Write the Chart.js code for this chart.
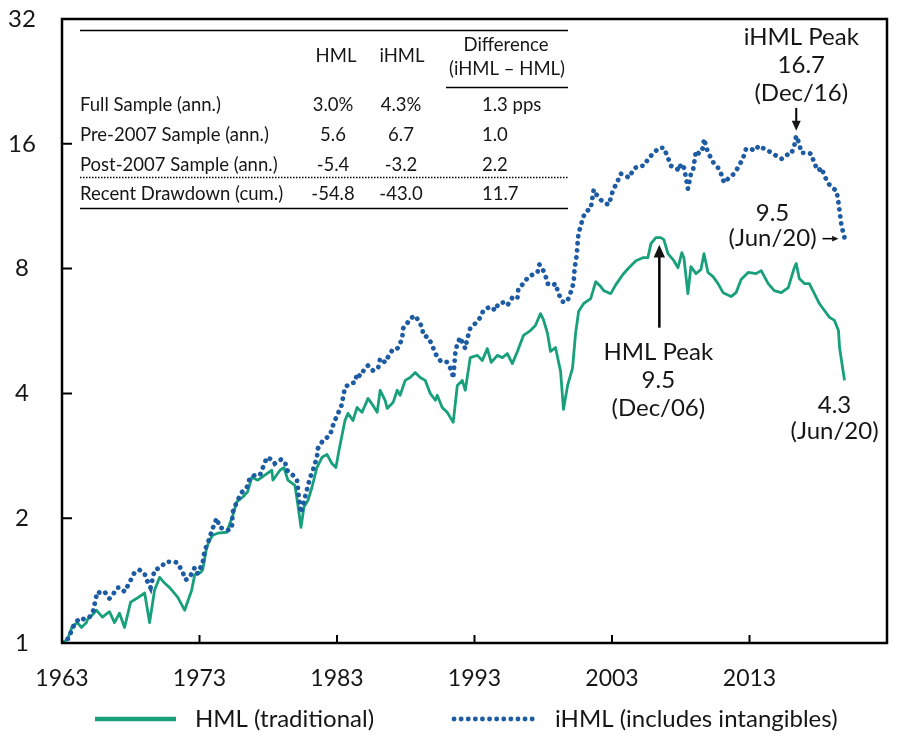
<!DOCTYPE html>
<html>
<head>
<meta charset="utf-8">
<script src="https://cdn.jsdelivr.net/npm/chart.js@4.4.1/dist/chart.umd.min.js"></script>
<style>
    html, body { margin: 0; padding: 0; background: #fff; }
    #wrap { width: 898px; height: 747px; }
</style>
</head>
<body>
<div id="wrap"><canvas id="chart" width="898" height="747"></canvas></div>
<script>
// growth of $1, monthly series starting Jul/1963
const hmlYears = [
    1963.5, 1963.9, 1964.26, 1964.62, 1964.91, 1965.28, 1965.35, 1965.72, 1966.0, 1966.44,
    1966.95, 1967.32, 1967.68, 1968.05, 1968.27, 1968.49, 1968.92, 1969.51, 1969.87, 1970.23,
    1970.6, 1970.96, 1971.33, 1971.91, 1972.42, 1972.93, 1973.15, 1973.59, 1973.73, 1974.02,
    1974.24, 1974.46, 1974.82, 1975.48, 1975.92, 1976.21, 1976.65, 1977.01, 1977.3, 1977.74,
    1978.25, 1978.76, 1978.84, 1979.35, 1979.64, 1979.93, 1980.44, 1980.66, 1980.88, 1981.1,
    1981.39, 1981.68, 1982.04, 1982.41, 1982.77, 1983.13, 1983.42, 1983.65, 1984.08, 1984.3,
    1984.66, 1984.96, 1985.32, 1985.76, 1986.12, 1986.42, 1986.64, 1987.0, 1987.15, 1987.59,
    1987.88, 1988.09, 1988.46, 1988.82, 1989.19, 1989.55, 1989.92, 1990.28, 1990.65, 1990.79,
    1991.15, 1991.52, 1991.95, 1992.25, 1992.61, 1992.83, 1993.19, 1993.71, 1994.07, 1994.43,
    1994.72, 1995.16, 1995.53, 1995.89, 1996.25, 1996.62, 1997.06, 1997.57, 1997.93, 1998.3,
    1998.51, 1998.81, 1999.03, 1999.39, 1999.76, 1999.97, 2000.27, 2000.63, 2000.85, 2001.07,
    2001.44, 2001.95, 2002.32, 2002.68, 2002.9, 2003.41, 2003.78, 2004.29, 2004.73, 2005.24,
    2005.75, 2006.11, 2006.33, 2006.69, 2007.05, 2007.27, 2007.57, 2008.0, 2008.3, 2008.58,
    2008.73, 2009.02, 2009.24, 2009.61, 2009.97, 2010.19, 2010.48, 2010.85, 2011.21, 2011.58,
    2012.16, 2012.52, 2012.89, 2013.4, 2013.98, 2014.35, 2014.86, 2015.3, 2015.81, 2016.32,
    2016.76, 2016.9, 2017.12, 2017.49, 2017.85, 2018.22, 2018.58, 2018.95, 2019.32, 2019.68,
    2019.97, 2020.05, 2020.19, 2020.41
];
const hmlValues = [
    1.00, 1.02, 1.10, 1.12, 1.09, 1.12, 1.14, 1.17, 1.20, 1.155,
    1.19, 1.12, 1.18, 1.09, 1.17, 1.255, 1.28, 1.32, 1.12, 1.34,
    1.44, 1.395, 1.36, 1.29, 1.20, 1.34, 1.46, 1.48, 1.50, 1.70,
    1.77, 1.82, 1.84, 1.85, 2.03, 2.19, 2.25, 2.32, 2.51, 2.47,
    2.54, 2.61, 2.47, 2.61, 2.65, 2.47, 2.40, 2.15, 1.90, 2.13,
    2.21, 2.375, 2.65, 2.805, 2.85, 2.71, 2.65, 2.92, 3.44, 3.58,
    3.44, 3.70, 3.60, 3.89, 3.74, 3.60, 4.07, 3.85, 3.68, 3.81,
    4.07, 3.96, 4.30, 4.37, 4.49, 4.37, 4.30, 4.00, 3.85, 3.96,
    3.70, 3.60, 3.405, 4.18, 4.30, 4.07, 4.88, 4.94, 4.80, 5.13,
    4.75, 4.94, 4.88, 4.99, 4.72, 5.05, 5.52, 5.67, 5.83, 6.23,
    6.03, 5.58, 5.05, 5.16, 4.52, 3.66, 4.18, 4.60, 5.58, 6.30,
    6.59, 6.77, 7.44, 7.24, 7.08, 6.96, 7.32, 7.74, 8.04, 8.36,
    8.50, 8.50, 9.19, 9.50, 9.50, 9.40, 8.69, 8.36, 8.04, 8.74,
    8.50, 6.96, 8.09, 7.78, 7.96, 8.69, 7.83, 7.65, 7.36, 7.00,
    6.85, 7.00, 7.53, 7.83, 7.78, 7.91, 7.36, 7.08, 7.00, 7.20,
    8.04, 8.23, 7.57, 7.36, 7.36, 6.96, 6.59, 6.34, 6.10, 6.00,
    5.67, 5.16, 4.80, 4.30
];

const ihmlYears = [
    1963.5, 1963.67, 1964.04, 1964.19, 1964.48, 1964.84, 1965.13, 1965.5, 1965.79, 1965.93,
    1966.08, 1966.3, 1966.59, 1966.95, 1967.17, 1967.54, 1967.76, 1968.05, 1968.41, 1968.78,
    1969.14, 1969.51, 1969.65, 1969.94, 1970.23, 1970.67, 1971.04, 1971.4, 1971.69, 1971.91,
    1972.28, 1972.5, 1972.79, 1973.15, 1973.37, 1973.73, 1973.88, 1974.1, 1974.46, 1974.75,
    1974.97, 1975.19, 1975.55, 1975.85, 1975.92, 1976.21, 1976.58, 1976.94, 1977.16, 1977.52,
    1977.89, 1978.11, 1978.4, 1978.84, 1978.98, 1979.42, 1979.71, 1979.86, 1980.08, 1980.29,
    1980.59, 1980.66, 1980.73, 1980.88, 1981.02, 1981.31, 1981.53, 1981.75, 1982.04, 1982.12,
    1982.48, 1982.99, 1983.21, 1983.5, 1983.79, 1983.94, 1984.08, 1984.45, 1984.81, 1984.96,
    1985.18, 1985.54, 1985.76, 1986.12, 1986.49, 1986.64, 1987.0, 1987.15, 1987.51, 1987.73,
    1987.95, 1988.24, 1988.31, 1988.6, 1988.82, 1989.19, 1989.41, 1989.7, 1989.77, 1990.14,
    1990.43, 1990.65, 1991.01, 1991.37, 1991.52, 1991.74, 1991.88, 1991.95, 1992.1, 1992.25,
    1992.47, 1992.61, 1992.83, 1992.98, 1993.19, 1993.56, 1993.93, 1994.14, 1994.65, 1995.02,
    1995.23, 1995.6, 1995.89, 1996.25, 1996.62, 1996.69, 1997.06, 1997.42, 1998.08, 1998.22,
    1998.44, 1998.66, 1998.81, 1999.17, 1999.39, 1999.61, 1999.9, 2000.12, 2000.27, 2000.49,
    2000.71, 2000.78, 2000.93, 2001.0, 2001.07, 2001.22, 2001.36, 2001.58, 2001.95, 2002.17,
    2002.32, 2002.53, 2002.9, 2003.27, 2003.56, 2003.92, 2004.14, 2004.51, 2004.73, 2005.09,
    2005.46, 2005.82, 2006.18, 2006.55, 2006.91, 2007.27, 2007.57, 2007.79, 2008.15, 2008.37,
    2008.51, 2008.73, 2008.88, 2009.02, 2009.24, 2009.39, 2009.61, 2009.83, 2010.12, 2010.19,
    2010.48, 2010.7, 2010.92, 2011.21, 2011.43, 2011.65, 2012.01, 2012.38, 2012.74, 2013.04,
    2013.25, 2013.62, 2013.84, 2014.2, 2014.57, 2014.86, 2015.22, 2015.44, 2015.81, 2016.03,
    2016.32, 2016.54, 2016.76, 2016.9, 2017.12, 2017.27, 2017.63, 2018.0, 2018.22, 2018.51,
    2018.73, 2018.95, 2019.24, 2019.61, 2019.83, 2019.97, 2020.05, 2020.12, 2020.19, 2020.41
];
const ihmlValues = [
    1.00, 1.01, 1.03, 1.075, 1.12, 1.15, 1.14, 1.155, 1.20, 1.27,
    1.33, 1.32, 1.33, 1.28, 1.305, 1.36, 1.36, 1.33, 1.40, 1.48,
    1.50, 1.47, 1.42, 1.36, 1.50, 1.52, 1.57, 1.57, 1.57, 1.56,
    1.48, 1.42, 1.44, 1.52, 1.47, 1.56, 1.675, 1.74, 1.89, 2.00,
    1.90, 1.89, 1.87, 1.89, 2.07, 2.19, 2.31, 2.375, 2.50, 2.54,
    2.54, 2.65, 2.805, 2.76, 2.71, 2.77, 2.74, 2.61, 2.58, 2.54,
    2.47, 2.36, 2.235, 2.06, 2.15, 2.34, 2.50, 2.61, 2.805, 2.95,
    3.08, 3.17, 3.35, 3.54, 3.70, 3.91, 4.135, 4.23, 4.25, 4.47,
    4.40, 4.60, 4.67, 4.54, 4.60, 4.86, 4.75, 4.86, 5.08, 5.08,
    5.16, 5.43, 5.74, 5.90, 6.06, 6.16, 6.00, 5.77, 5.52, 5.46,
    5.22, 4.99, 4.80, 4.80, 4.75, 4.60, 4.47, 4.35, 4.99, 5.28,
    5.46, 5.31, 5.13, 5.43, 5.74, 5.90, 6.10, 6.34, 6.48, 6.34,
    6.59, 6.63, 6.52, 6.81, 6.77, 7.16, 7.36, 7.65, 7.83, 8.18,
    8.00, 7.70, 7.36, 7.28, 7.36, 6.96, 6.66, 6.63, 6.70, 7.00,
    7.40, 8.00, 8.60, 9.24, 9.77, 10.10, 10.56, 10.97, 11.16, 12.40,
    12.13, 11.86, 11.54, 11.41, 12.33, 13.03, 13.55, 13.40, 13.25, 13.93,
    14.16, 14.16, 14.80, 15.22, 15.65, 15.65, 14.80, 14.16, 14.01, 13.78,
    14.32, 14.01, 13.25, 12.47, 13.55, 13.78, 15.39, 15.14, 15.65, 16.45,
    15.22, 14.80, 14.32, 14.01, 13.55, 12.89, 13.25, 13.55, 14.16, 14.80,
    15.56, 15.56, 15.39, 15.83, 15.56, 15.39, 15.14, 14.97, 14.72, 14.80,
    15.14, 15.14, 15.83, 16.72, 16.00, 15.22, 15.22, 15.14, 14.32, 13.78,
    14.01, 13.40, 12.82, 12.47, 12.33, 11.54, 11.03, 10.56, 10.15, 9.50
];

const yTicks = [1, 2, 4, 8, 16, 32];
const xTickYears = [1963, 1973, 1983, 1993, 2003, 2013];
const legendLabels = ['HML (traditional)', 'iHML (includes intangibles)'];

const tableRows = ['Full Sample (ann.)', 'Pre-2007 Sample (ann.)', 'Post-2007 Sample (ann.)', 'Recent Drawdown (cum.)'];
const tableHml = ['3.0%', '5.6', '-5.4', '-54.8'];
const tableIhml = ['4.3%', '6.7', '-3.2', '-43.0'];
const tableDiff = ['1.3 pps', '1.0', '2.2', '11.7'];

// [year, value] of the annotated points
const ihmlPeak = [2016.9, 16.72];
const ihmlLast = [2020.41, 9.50];
const hmlPeak = [2006.87, 9.50];
const hmlLast = [2020.41, 4.30];

const HML_COLOR = '#17a07b';
const IHML_COLOR = '#1d5ba2';
const TEXT = '#161616';

function toPoints(years, values) {
    return years.map((yr, i) => ({ x: yr, y: values[i] }));
}

function arrow(ctx, x1, y1, x2, y2, head, lw) {
    const ang = Math.atan2(y2 - y1, x2 - x1);
    ctx.lineWidth = lw;
    ctx.beginPath();
    ctx.moveTo(x1, y1);
    ctx.lineTo(x2 - Math.cos(ang) * head * 0.7, y2 - Math.sin(ang) * head * 0.7);
    ctx.stroke();
    ctx.beginPath();
    ctx.moveTo(x2, y2);
    ctx.lineTo(x2 - head * Math.cos(ang - 0.42), y2 - head * Math.sin(ang - 0.42));
    ctx.lineTo(x2 - head * Math.cos(ang + 0.42), y2 - head * Math.sin(ang + 0.42));
    ctx.closePath();
    ctx.fill();
}

const overlay = {
    id: 'overlay',
    afterDraw(chart) {
        const { ctx, chartArea: a, scales: { x, y } } = chart;
        ctx.save();
        ctx.strokeStyle = '#000';
        ctx.fillStyle = TEXT;

        // plot frame
        ctx.lineWidth = 2.5;
        ctx.strokeRect(a.left, a.top, a.right - a.left, a.bottom - a.top);

        // inward tick marks
        ctx.lineWidth = 2;
        ctx.beginPath();
        yTicks.slice(1, -1).forEach(v => {
            const py = y.getPixelForValue(v);
            ctx.moveTo(a.left, py);
            ctx.lineTo(a.left + 10, py);
        });
        xTickYears.slice(1).forEach(v => {
            const px = x.getPixelForValue(v + 0.5);
            ctx.moveTo(px, a.bottom);
            ctx.lineTo(px, a.bottom - 8);
        });
        ctx.stroke();

        // y tick labels, centred in the left margin
        ctx.font = '24px Lato';
        ctx.textAlign = 'center';
        ctx.textBaseline = 'middle';
        yTicks.forEach(v => ctx.fillText(String(v), 22, y.getPixelForValue(v)));

        // stats table
        ctx.font = '18.5px Lato';
        ctx.lineWidth = 1.3;
        ctx.beginPath();
        ctx.moveTo(80, 30.5); ctx.lineTo(568, 30.5);
        ctx.moveTo(446, 87.5); ctx.lineTo(568, 87.5);
        ctx.moveTo(80, 208.5); ctx.lineTo(568, 208.5);
        ctx.stroke();
        ctx.setLineDash([1.5, 1.5]);
        ctx.beginPath();
        ctx.moveTo(80, 177.5); ctx.lineTo(568, 177.5);
        ctx.stroke();
        ctx.setLineDash([]);

        ctx.textAlign = 'center';
        ctx.fillText('HML', 336, 56);
        ctx.fillText('iHML', 402, 56);
        ctx.fillText('Difference', 506, 45);
        ctx.fillText('(iHML \u2013 HML)', 507, 69);
        const rowY = [105, 135, 165, 194];
        tableRows.forEach((label, i) => {
            ctx.textAlign = 'left';
            ctx.fillText(label, 80, rowY[i]);
            ctx.fillText(tableDiff[i], 482, rowY[i]);
            ctx.textAlign = 'center';
            ctx.fillText(tableHml[i], 333, rowY[i]);
            ctx.fillText(tableIhml[i], 401, rowY[i]);
        });

        // annotations
        ctx.font = '24px Lato';
        ctx.textAlign = 'center';
        const ip = [x.getPixelForValue(ihmlPeak[0]), y.getPixelForValue(ihmlPeak[1])];
        ctx.fillText('iHML Peak', ip[0] + 5, ip[1] - 99);
        ctx.fillText('16.7', ip[0] + 5, ip[1] - 71);
        ctx.fillText('(Dec/16)', ip[0] + 5, ip[1] - 43);
        arrow(ctx, ip[0], ip[1] - 28, ip[0], ip[1] - 5, 11, 2);

        const il = [x.getPixelForValue(ihmlLast[0]), y.getPixelForValue(ihmlLast[1])];
        ctx.fillText('9.5', il[0] - 72, il[1] - 24);
        ctx.fillText('(Jun/20)', il[0] - 72, il[1] + 1);
        arrow(ctx, il[0] - 22, il[1] + 1, il[0] - 6, il[1] + 1, 7, 1.5);

        const hp = [x.getPixelForValue(hmlPeak[0]), y.getPixelForValue(hmlPeak[1])];
        ctx.fillText('HML Peak', hp[0], hp[1] + 115);
        ctx.fillText('9.5', hp[0], hp[1] + 143);
        ctx.fillText('(Dec/06)', hp[0], hp[1] + 171);
        arrow(ctx, hp[0] + 1, hp[1] + 90, hp[0] + 1, hp[1] + 7, 14, 2.5);

        const hl = [x.getPixelForValue(hmlLast[0]), y.getPixelForValue(hmlLast[1])];
        ctx.fillText('4.3', hl[0] - 10, hl[1] + 25);
        ctx.fillText('(Jun/20)', hl[0] - 10, hl[1] + 51);

        // legend
        const ly = 719;
        ctx.lineCap = 'butt';
        ctx.strokeStyle = HML_COLOR;
        ctx.lineWidth = 4.5;
        ctx.beginPath(); ctx.moveTo(95, ly); ctx.lineTo(176, ly); ctx.stroke();
        ctx.strokeStyle = IHML_COLOR;
        ctx.lineCap = 'round';
        ctx.lineWidth = 4.8;
        ctx.setLineDash([0.1, 7]);
        ctx.beginPath(); ctx.moveTo(454, ly); ctx.lineTo(533, ly); ctx.stroke();
        ctx.setLineDash([]);
        ctx.textAlign = 'left';
        ctx.fillStyle = TEXT;
        ctx.fillText(legendLabels[0], 195, ly);
        ctx.fillText(legendLabels[1], 555, ly);
        ctx.restore();
    }
};

new Chart(document.getElementById('chart'), {
    type: 'line',
    data: {
        datasets: [{
            label: legendLabels[0],
            data: toPoints(hmlYears, hmlValues),
            borderColor: HML_COLOR,
            borderWidth: 2.8,
            borderJoinStyle: 'round',
            pointRadius: 0,
            tension: 0,
            order: 2
        }, {
            label: legendLabels[1],
            data: toPoints(ihmlYears, ihmlValues),
            borderColor: IHML_COLOR,
            borderWidth: 4.8,
            borderDash: [0.1, 7],
            borderCapStyle: 'round',
            pointRadius: 0,
            tension: 0,
            order: 1
        }]
    },
    options: {
        responsive: false,
        animation: false,
        devicePixelRatio: 1,
        layout: { padding: { top: 19, right: 11, left: 0, bottom: 0 } },
        plugins: { legend: { display: false }, tooltip: { enabled: false } },
        scales: {
            x: {
                type: 'linear',
                min: 1963.5,
                max: 2023.5,
                afterBuildTicks: s => { s.ticks = xTickYears.map(v => ({ value: v + 0.5 })); },
                afterFit: s => { s.height = 104; },
                grid: { display: false, drawTicks: false },
                border: { display: false },
                ticks: {
                    padding: 22,
                    autoSkip: false,
                    maxRotation: 0,
                    color: TEXT,
                    font: { family: 'Lato', size: 23 },
                    callback: v => Math.floor(v)
                }
            },
            y: {
                type: 'logarithmic',
                min: 1,
                max: 32,
                afterBuildTicks: s => { s.ticks = yTicks.map(v => ({ value: v })); },
                afterFit: s => { s.width = 62; },
                grid: { display: false, drawTicks: false },
                border: { display: false },
                ticks: { display: false }
            }
        }
    },
    plugins: [overlay]
});
</script>
</body>
</html>
